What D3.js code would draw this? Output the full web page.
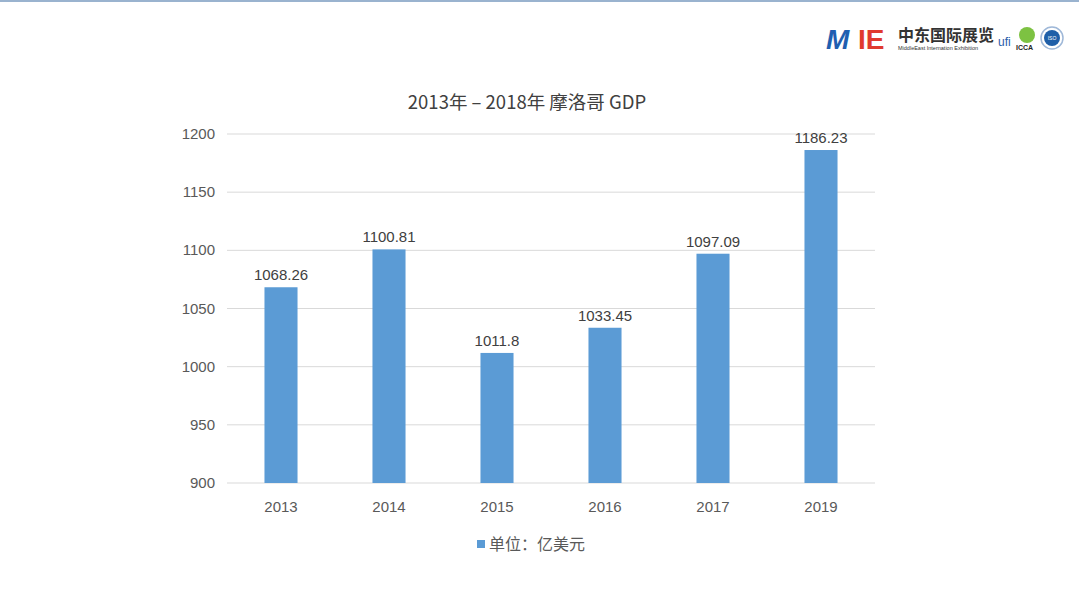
<!DOCTYPE html><html><head><meta charset="utf-8"><script src="https://cdn.jsdelivr.net/npm/d3@7/dist/d3.min.js"></script>
<style>body{margin:0;background:#fff}</style></head><body><svg id="c" width="1079" height="609"></svg><script>
const categories=["2013","2014","2015","2016","2017","2019"];
const values=[1068.26,1100.81,1011.8,1033.45,1097.09,1186.23];
const labels=["1068.26","1100.81","1011.8","1033.45","1097.09","1186.23"];
const yTicks=[900,950,1000,1050,1100,1150,1200];
const svg=d3.select("#c");
const F="'Liberation Sans',Arial,sans-serif";
svg.append("rect").attr("x",0).attr("y",0).attr("width",1079).attr("height",2).attr("fill","#9ab3cf");
const x=d3.scaleBand().domain(categories).range([227,875]).paddingInner(0.694).paddingOuter(0.347);
const y=d3.scaleLinear().domain([900,1200]).range([483,134]);
const g=svg.append("g");
yTicks.forEach(t=>{
 g.append("line").attr("x1",227).attr("x2",875).attr("y1",y(t)).attr("y2",y(t)).attr("stroke","#d9d9d9");
 g.append("text").attr("x",215).attr("y",y(t)+5).attr("text-anchor","end").attr("font-family",F).attr("font-size",15).attr("fill","#595959").text(t);
});
g.selectAll("rect.b").data(values).enter().append("rect").attr("x",(d,i)=>x(categories[i])).attr("width",x.bandwidth()).attr("y",d=>y(d)).attr("height",d=>483-y(d)).attr("fill","#5b9bd5");
g.selectAll("text.v").data(values).enter().append("text").attr("x",(d,i)=>x(categories[i])+x.bandwidth()/2).attr("y",d=>y(d)-7).attr("text-anchor","middle").attr("font-family",F).attr("font-size",15).attr("fill","#404040").text((d,i)=>labels[i]);
categories.forEach(c=>g.append("text").attr("x",x(c)+x.bandwidth()/2).attr("y",512).attr("text-anchor","middle").attr("font-family",F).attr("font-size",15).attr("fill","#595959").text(c));
svg.append("text").attr("x",527).attr("y",109).attr("text-anchor","middle").attr("font-family","'Noto Sans CJK SC',sans-serif").attr("font-size",18.5).attr("fill","#404040").text("2013年 – 2018年 摩洛哥 GDP");
svg.append("rect").attr("x",477).attr("y",540).attr("width",8).attr("height",8).attr("fill","#5b9bd5");
svg.append("text").attr("x",489).attr("y",550).attr("font-family","'Noto Sans CJK SC',sans-serif").attr("font-size",16).attr("fill","#595959").text("单位：亿美元");
const L=svg.append("g");
L.append("text").attr("x",826).attr("y",49).attr("font-family",F).attr("font-style","italic").attr("font-weight","bold").attr("font-size",28).attr("fill","#1f5fb0").text("M");
L.append("text").attr("x",858).attr("y",49).attr("font-family",F).attr("font-weight","bold").attr("font-size",28).attr("fill","#e03a2f").text("IE");
L.append("text").attr("x",898).attr("y",41).attr("font-family","'Noto Sans CJK SC',sans-serif").attr("font-weight","bold").attr("font-size",16).attr("fill","#333").text("中东国际展览");
L.append("text").attr("x",898).attr("y",50).attr("font-family",F).attr("font-size",5.5).attr("fill","#333").text("MiddleEast Internation Exhibition");
L.append("text").attr("x",998).attr("y",46).attr("font-family",F).attr("font-size",12).attr("fill","#2a5caa").text("ufi");
L.append("circle").attr("cx",1027).attr("cy",35).attr("r",8).attr("fill","#7dc242");
L.append("text").attr("x",1016).attr("y",50).attr("font-family",F).attr("font-weight","bold").attr("font-size",7).attr("fill","#222").text("ICCA");
L.append("circle").attr("cx",1052).attr("cy",38).attr("r",11).attr("fill","#fff").attr("stroke","#9fb8d8").attr("stroke-width",1.5);
L.append("circle").attr("cx",1052).attr("cy",38).attr("r",8).attr("fill","#1f5fa8");
L.append("text").attr("x",1052).attr("y",40).attr("text-anchor","middle").attr("font-family",F).attr("font-size",5).attr("fill","#fff").text("ISO");
</script></body></html>
